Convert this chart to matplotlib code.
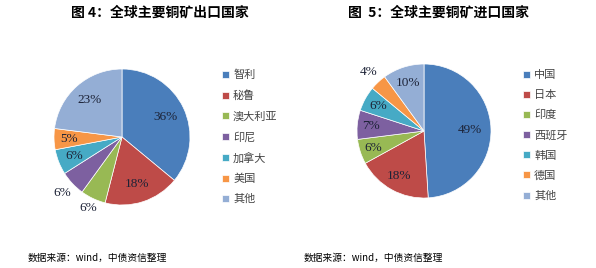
import numpy as np
import matplotlib
matplotlib.use("Agg")
import matplotlib.pyplot as plt

plt.rcParams['font.family'] = ['Noto Sans CJK SC', 'DejaVu Sans']

# data
export_labels = ['智利', '秘鲁', '澳大利亚', '印尼', '加拿大', '美国', '其他']
export_values = [36, 18, 6, 6, 6, 5, 23]
import_labels = ['中国', '日本', '印度', '西班牙', '韩国', '德国', '其他']
import_values = [49, 18, 6, 7, 6, 4, 10]

colors = ['#4A7EBB', '#BE4B48', '#98B954', '#7D60A0', '#46AAC5', '#F79646', '#94AED5']

W, H = 596, 268
fig = plt.figure(figsize=(W / 100, H / 100), dpi=100)
fig.patch.set_facecolor('white')


def draw_pie(cx, cy, r, values, labels, dists, leg_x, title, title_x, foot_x):
    ax = fig.add_axes([(cx - r) / W, (H - cy - r) / H, 2 * r / W, 2 * r / H])
    wedges, _ = ax.pie(values, colors=colors, startangle=90, counterclock=False,
                       radius=1, wedgeprops=dict(edgecolor='white', linewidth=0.5))
    ax.set_xlim(-1, 1)
    ax.set_ylim(-1, 1)
    ax.set_aspect('equal')
    ax.axis('off')
    for w, v, d in zip(wedges, values, dists):
        ang = np.deg2rad((w.theta1 + w.theta2) / 2)
        ax.text(d * np.cos(ang), d * np.sin(ang), f'{v}%', ha='center', va='center',
                fontsize=9.5, family='Liberation Serif', color='#1c2236')
    fig.legend(wedges, labels, loc='upper left',
               bbox_to_anchor=(leg_x / W, 1 - 70 / H), frameon=False,
               fontsize=8, handlelength=0.6, handleheight=0.6,
               handletextpad=0.4, labelspacing=0.9, borderaxespad=0,
               borderpad=0, labelcolor='#444444')
    fig.text(title_x / W, 1 - 13 / H, title, ha='center', va='center',
             fontsize=10, fontweight='bold')
    fig.text(foot_x / W, 1 - 258 / H, '数据来源：wind，中债资信整理', ha='left',
             va='center', fontsize=7)


draw_pie(122, 137, 68, export_values, export_labels,
         [0.7, 0.73, 1.15, 1.2, 0.76, 0.78, 0.73], 222,
         '图 4：全球主要铜矿出口国家', 160, 28)
draw_pie(424, 131, 67, import_values, import_labels,
         [0.68, 0.77, 0.8, 0.8, 0.78, 1.21, 0.75], 523,
         '图  5：全球主要铜矿进口国家', 438, 304)

fig.savefig('out.png', dpi=100)
